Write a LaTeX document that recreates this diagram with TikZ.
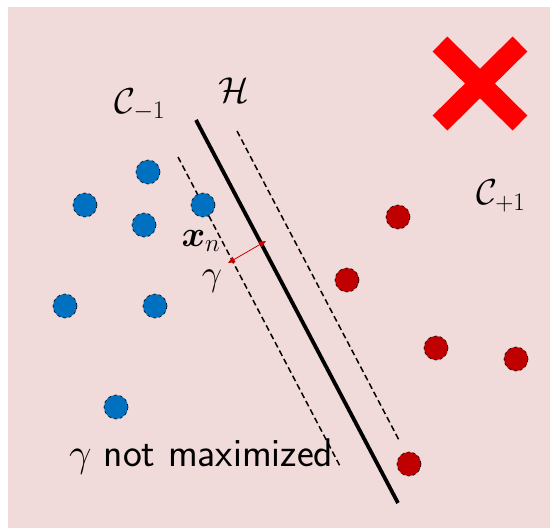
\RequirePackage{fix-cm}
\documentclass[tikz,border=0pt]{standalone}
\usepackage{amsmath,amssymb,bm}
\usetikzlibrary{arrows.meta}
\definecolor{bgpink}{RGB}{240,218,218}
\definecolor{dotblue}{RGB}{0,112,192}
\definecolor{dotred}{RGB}{192,0,0}
\begin{document}
\begin{tikzpicture}[x=1pt,y=-1pt,
  bluedot/.style={circle,fill=dotblue,draw=black,dashed,line width=0.6pt,minimum size=24pt,inner sep=0pt},
  reddot/.style={circle,fill=dotred,draw=black,dashed,line width=0.6pt,minimum size=24pt,inner sep=0pt},
  lbl/.style={inner sep=0pt,font=\fontsize{36}{40}\selectfont},
  margin/.style={dashed,line width=1.5pt,dash pattern=on 6pt off 3.5pt}]
\useasboundingbox (0,0) rectangle (550,528);
\fill[bgpink] (8,7) rectangle (550,528);
% red cross
\draw[red,line width=21pt] (440,44) -- (520,123) (520,44) -- (440,123);
% lines
\coordinate (h1) at (196,120); \coordinate (h2) at (398,503);
\coordinate (l1) at (178,157); \coordinate (l2) at (341,468);
\coordinate (r1) at (237,131); \coordinate (r2) at (400,442);
\draw[line width=3.8pt] (h1) -- (h2);
\draw[margin] (l1) -- (l2);
\draw[margin] (r1) -- (r2);
% dots
\node[bluedot] (b1) at (148,172) {};
\node[bluedot] (b2) at (85,205) {};
\node[bluedot] (b3) at (203,205) {};
\node[bluedot] (b4) at (144,225) {};
\node[bluedot] (b5) at (65,306) {};
\node[bluedot] (b6) at (155,306) {};
\node[bluedot] (b7) at (116,407) {};
\node[reddot] (r1d) at (398,217) {};
\node[reddot] (r2d) at (347,280) {};
\node[reddot] (r3d) at (436,348) {};
\node[reddot] (r4d) at (516,359) {};
\node[reddot] (r5d) at (409,464) {};
% gamma arrow
\coordinate (g1) at (228,263); \coordinate (g2) at (266,241);
\draw[red!80!black,line width=0.8pt,{Triangle[length=7pt,width=6pt]}-{Triangle[length=7pt,width=6pt]}] (g1) -- (g2);
% labels
\node[lbl] (cm) at (140,105) {$\mathcal{C}_{-1}$};
\node[lbl] (H) at (234,90) {$\mathcal{H}$};
\node[lbl] (cp) at (501,196) {$\mathcal{C}_{+1}$};
\node[lbl] (xn) at (201,241) {$\bm{x}_n$};
\node[lbl] (g) at (212,281) {$\gamma$};
\node[lbl,anchor=base west,font=\fontsize{40}{44}\selectfont] (nm) at (69,466) {$\gamma$ \textsf{not maximized}};
\end{tikzpicture}
\end{document}
